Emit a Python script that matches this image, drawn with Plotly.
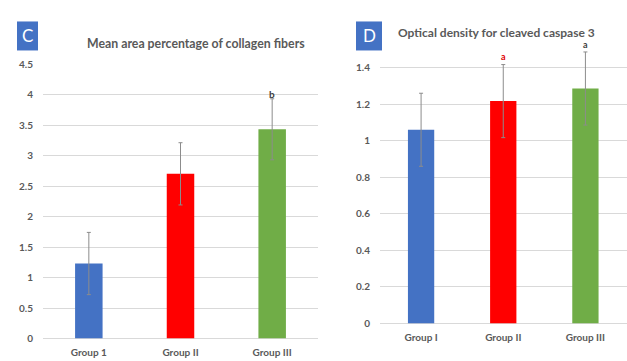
import plotly.graph_objects as go

W, H = 627, 361

# Panel C data
c_groups = ["Group 1", "Group II", "Group III"]
c_values = [1.23, 2.70, 3.43]
c_errors = [0.51, 0.51, 0.50]
c_colors = ["#4472C4", "#FF0000", "#70AD47"]
c_title = "Mean area percentage of collagen fibers"
c_sig = ["", "", "b"]

# Panel D data
d_groups = ["Group I", "Group II", "Group III"]
d_values = [1.06, 1.217, 1.286]
d_errors = [0.20, 0.20, 0.20]
d_colors = ["#4472C4", "#FF0000", "#70AD47"]
d_title = "Optical density for cleaved caspase 3"
d_sig = ["", "a", "a"]
d_sig_colors = ["#404040", "#E00000", "#404040"]

FONT = "Lato"
GRAY = "#595959"

def px_x(x):
    return x / W

def px_y(y):
    return 1 - y / H

fig = go.Figure()
fig.add_trace(go.Bar(
    x=c_groups, y=c_values, marker=dict(color=c_colors, line=dict(width=0)),
    width=0.3,
    error_y=dict(type="data", array=c_errors, color="#8C8C8C", thickness=1, width=2),
    xaxis="x", yaxis="y", showlegend=False, hoverinfo="skip"))
fig.add_trace(go.Bar(
    x=d_groups, y=d_values, marker=dict(color=d_colors, line=dict(width=0)),
    width=0.32,
    error_y=dict(type="data", array=d_errors, color="#8C8C8C", thickness=1, width=2),
    xaxis="x2", yaxis="y2", showlegend=False, hoverinfo="skip"))

tickfont = dict(family=FONT, size=10, color=GRAY, weight="bold")
grid = "#D9D9D9"

d_tickvals = [0, 0.2, 0.4, 0.6, 0.8, 1.0, 1.2, 1.4, 1.6]
d_ticktext = ["0", "0.2", "0.4", "0.6", "0.8", "1", "1.2", "1.4", ""]

fig.update_layout(
    width=W, height=H, margin=dict(l=0, r=0, t=0, b=0),
    paper_bgcolor="white", plot_bgcolor="white",
    xaxis=dict(domain=[px_x(43), px_x(318)], showgrid=False, showline=False,
               zeroline=False, tickfont=tickfont, ticks="", ticklabelstandoff=6,
               fixedrange=True),
    yaxis=dict(domain=[px_y(344), px_y(60)], range=[0, 4.5], dtick=0.5,
               showgrid=True, gridcolor=grid, gridwidth=1, zeroline=True,
               zerolinecolor=grid, zerolinewidth=1, showline=False,
               tickfont=tickfont, ticks="", ticklabelstandoff=9, fixedrange=True),
    xaxis2=dict(domain=[px_x(380), px_x(626.5)], anchor="y2", showgrid=False,
                showline=False, zeroline=False, tickfont=tickfont, ticks="",
                ticklabelstandoff=7, fixedrange=True),
    yaxis2=dict(domain=[px_y(328.3), px_y(26)], anchor="x2", range=[0, 1.6],
                tickvals=d_tickvals, ticktext=d_ticktext,
                showgrid=True, gridcolor=grid, gridwidth=1, zeroline=True,
                zerolinecolor=grid, zerolinewidth=1, showline=False,
                tickfont=tickfont, ticks="", ticklabelstandoff=9, fixedrange=True),
    bargap=0.7,
)

shapes = [
    dict(type="rect", xref="paper", yref="paper", x0=px_x(17), x1=px_x(38),
         y0=px_y(46), y1=px_y(16), fillcolor="#4472C4", line=dict(width=0), layer="above"),
    dict(type="rect", xref="paper", yref="paper", x0=px_x(356), x1=px_x(382),
         y0=px_y(46), y1=px_y(16), fillcolor="#4472C4", line=dict(width=0), layer="above"),
]
fig.update_layout(shapes=shapes)

ann = [
    dict(text="C", xref="paper", yref="paper", x=px_x(27.5), y=px_y(31),
         showarrow=False, font=dict(family=FONT, size=17, color="white"),
         xanchor="center", yanchor="middle"),
    dict(text="D", xref="paper", yref="paper", x=px_x(369), y=px_y(31),
         showarrow=False, font=dict(family=FONT, size=17, color="white"),
         xanchor="center", yanchor="middle"),
    dict(text=c_title, xref="paper", yref="paper", x=px_x(196), y=px_y(38.5),
         showarrow=False, font=dict(family=FONT, size=12.3, color=GRAY, weight="bold"),
         xanchor="center", yanchor="middle"),
    dict(text=d_title, xref="paper", yref="paper", x=px_x(496.5), y=px_y(27),
         showarrow=False, font=dict(family=FONT, size=12, color=GRAY, weight="bold"),
         xanchor="center", yanchor="middle", bgcolor="white", borderpad=2),
]
for g, v, e, s in zip(c_groups, c_values, c_errors, c_sig):
    if s:
        ann.append(dict(text=s, x=g, y=v + e, xref="x", yref="y", showarrow=False,
                        yanchor="bottom", yshift=-3,
                        font=dict(family=FONT, size=10, color="#404040", weight="bold")))
for g, v, e, s, col in zip(d_groups, d_values, d_errors, d_sig, d_sig_colors):
    if s:
        ann.append(dict(text=s, x=g, y=v + e, xref="x2", yref="y2", showarrow=False,
                        yanchor="bottom", yshift=0 if g == "Group III" else 1,
                        font=dict(family=FONT, size=9, color=col, weight="bold")))
fig.update_layout(annotations=ann)

fig.write_html(
    "out.html",
    config=dict(displayModeBar=False, staticPlot=True),
    post_script="document.body.style.margin='0';document.body.style.padding='0';"
                "document.documentElement.style.overflow='hidden';",
)
